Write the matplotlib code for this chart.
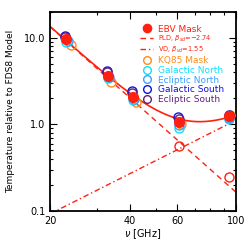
import numpy as np
import matplotlib.pyplot as plt
from matplotlib.ticker import FixedLocator, NullFormatter

# WMAP band centres [GHz]
nu = [23, 33, 41, 61, 94]

# temperature relative to FDS8, per mask
ebv = [9.7, 3.65, 2.1, 1.08, 1.24]
kq85 = [8.2, 3.1, 1.84, 1.02, 1.28]
gal_north = [9.0, 3.4, 1.9, 0.92, 1.17]
ecl_north = [9.3, 3.5, 1.95, 0.98, 1.2]
gal_south = [10.6, 4.2, 2.45, 1.22, 1.27]
ecl_south = [10.2, 4.0, 2.3, 1.15, 1.25]

# the two EBV components at 61 and 94 GHz (open red)
comp_nu = [61, 94]
comp_val = [0.56, 0.245]

# model: power-law dust + vibrating dust
pld_amp, pld_beta = 13.5, -2.74   # amplitude at 20 GHz
vd_amp, vd_beta = 1.12, 1.55      # amplitude at 100 GHz

red = '#ff2010'
masks = [
    ('KQ85 Mask', kq85, '#ff8c1a', 1.0),
    ('Galactic North', gal_north, '#10e0ff', 0.0),
    ('Ecliptic North', ecl_north, '#3aa0ff', 0.3),
    ('Galactic South', gal_south, '#1010e0', -0.3),
    ('Ecliptic South', ecl_south, '#602080', -0.2),
]

plt.rcParams['font.family'] = 'DejaVu Sans'
fig = plt.figure(figsize=(2.49, 2.49), dpi=100)
ax = fig.add_axes([0.201, 0.153, 0.747, 0.799])

x = np.logspace(np.log10(20), np.log10(100), 200)
pld = pld_amp * (x / 20.0) ** pld_beta
vd = vd_amp * (x / 100.0) ** vd_beta

ax.plot(x, pld + vd, color=red, lw=1.2, zorder=2)
l_pld, = ax.plot(x, pld, color=red, lw=1.0, ls=(0, (4, 3)), zorder=2)
l_vd, = ax.plot(x, vd, color=red, lw=1.0, ls=(0, (4, 2, 1, 2)), zorder=2)

handles = []
for label, vals, col, dx in masks:
    h, = ax.plot(np.array(nu) + dx, vals, 'o', ms=6.5, mfc='none', mec=col,
                 mew=1.0, ls='none', zorder=3)
    handles.append((h, label, col))

h_ebv, = ax.plot(nu, ebv, 'o', ms=7, color=red, ls='none', zorder=4)
ax.plot(comp_nu, comp_val, 'o', ms=6.5, mfc='none', mec=red, mew=1.0,
        ls='none', zorder=4)

ax.set_xscale('log')
ax.set_yscale('log')
ax.set_xlim(20, 100)
ax.set_ylim(0.1, 20)

ax.xaxis.set_major_locator(FixedLocator([20, 40, 60, 100]))
ax.xaxis.set_minor_locator(FixedLocator([30, 50, 70, 80, 90]))
ax.set_xticklabels(['20', '40', '60', '100'])
ax.xaxis.set_minor_formatter(NullFormatter())
ax.yaxis.set_major_locator(FixedLocator([0.1, 1, 10]))
ax.set_yticklabels(['0.1', '1.0', '10.0'])
ax.yaxis.set_minor_locator(FixedLocator(
    [k * 0.1 for k in range(2, 10)] + list(range(2, 10)) + [20]))
ax.yaxis.set_minor_formatter(NullFormatter())
ax.tick_params(which='both', direction='in', top=True, right=True,
               labelsize=7, width=0.8)
ax.tick_params(which='major', length=5)
ax.tick_params(which='minor', length=2.5)
for s in ax.spines.values():
    s.set_linewidth(1.3)

ax.set_xlabel(r'$\nu$ [GHz]', fontsize=7, labelpad=1)
ax.set_ylabel('Temperature relative to FDS8 Model', fontsize=6.5, labelpad=6)

leg_handles = [h_ebv, l_pld, l_vd] + [h[0] for h in handles]
leg_labels = ['EBV Mask', r'PLD, $\beta_{sd}$=$-$2.74',
              r'VD, $\beta_{vd}$=1.55'] + [h[1] for h in handles]
leg_colors = [red, red, red] + [h[2] for h in handles]
leg = ax.legend(leg_handles, leg_labels, loc='upper right', frameon=False,
                fontsize=6.5, labelcolor=leg_colors, handlelength=1.5,
                handletextpad=0.5, labelspacing=0.08, markerscale=0.85,
                bbox_to_anchor=(0.955, 0.955), borderaxespad=0)
for t in leg.get_texts()[1:3]:
    t.set_fontsize(4.8)

plt.savefig('out.png', dpi=100)
plt.close()
